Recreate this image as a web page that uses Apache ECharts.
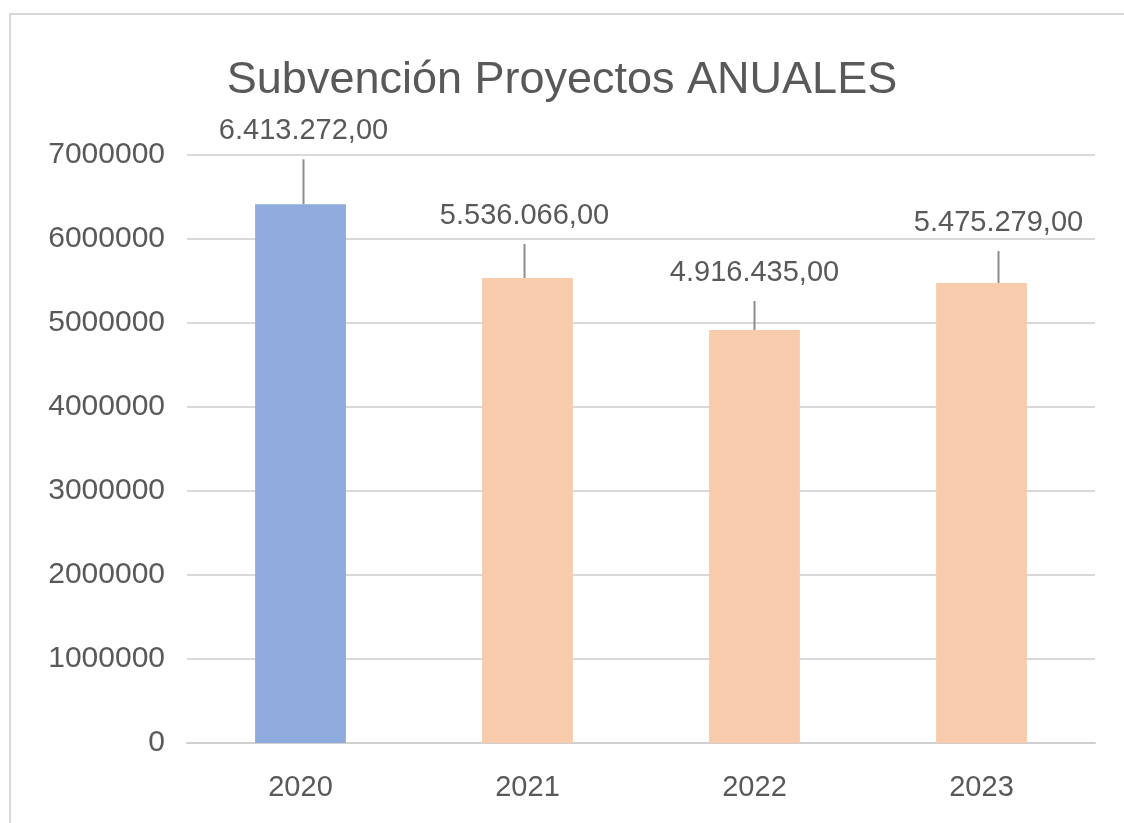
<!DOCTYPE html>
<html>
<head>
<meta charset="utf-8">
<script src="https://cdn.jsdelivr.net/npm/echarts@6/dist/echarts.min.js"></script>
<style>
    html, body { margin: 0; padding: 0; background: #fff; }
    #frame {
        position: absolute; left: 9px; top: 13px; width: 1200px; height: 900px;
        border-top: 2px solid #d9d9d9; border-left: 2px solid #d9d9d9;
    }
    #chart { position: absolute; left: 0; top: 0; width: 1124px; height: 823px; }
</style>
</head>
<body>
<div id="frame"></div>
<div id="chart"></div>
<script>
const years = ['2020', '2021', '2022', '2023']
const amounts = [6413272, 5536066, 4916435, 5475279]
const barColors = ['#8faadc', '#f8cbad', '#f8cbad', '#f8cbad']

const formatEs = v => {
    const [int, dec] = v.toFixed(2).split('.')
    return int.replace(/\B(?=(\d{3})+(?!\d))/g, '.') + ',' + dec
}

// label shifts away from the bar top (like the hand-moved labels in the original)
const labelShift = [[3, -38], [-3, -27], [0, -22], [17, -25]]

const textColor = '#595959'
const font = 'Liberation Sans'

const chart = echarts.init(document.getElementById('chart'), null, { renderer: 'canvas' })

chart.setOption({
    animation: false,
    title: {
        text: 'Subvención Proyectos ANUALES',
        left: 'center',
        top: 53,
        textStyle: { fontFamily: font, fontSize: 45, fontWeight: 'normal', color: textColor }
    },
    grid: { left: 187, right: 29, top: 155, bottom: 80, containLabel: false },
    xAxis: {
        type: 'category',
        data: years,
        axisTick: { show: false },
        axisLine: { lineStyle: { color: '#d0d0d0', width: 2 } },
        axisLabel: { fontFamily: font, fontSize: 29, color: textColor, margin: 30 }
    },
    yAxis: {
        type: 'value',
        min: 0,
        max: 7000000,
        interval: 1000000,
        axisLine: { show: false },
        axisTick: { show: false },
        splitLine: { lineStyle: { color: '#d9d9d9', width: 2 } },
        axisLabel: {
            fontFamily: font, fontSize: 30, color: textColor, margin: 22,
            formatter: v => String(v)
        }
    },
    series: [{
        type: 'bar',
        barWidth: '40%',
        data: amounts.map((v, i) => ({ value: v, itemStyle: { color: barColors[i] } })),
        label: {
            show: true,
            position: 'top',
            distance: 5,
            color: textColor,
            // empty second line keeps the leader line off the text
            formatter: p => `{v|${formatEs(p.value)}}\n{g| }`,
            rich: {
                v: { fontFamily: font, fontSize: 29, color: textColor, height: 32 },
                g: { fontSize: 10, height: 14 }
            }
        },
        labelLine: {
            show: true,
            lineStyle: { color: '#8c8c8c', width: 2 }
        },
        labelLayout: p => ({ dx: labelShift[p.dataIndex][0], dy: labelShift[p.dataIndex][1] })
    }]
})
</script>
</body>
</html>
